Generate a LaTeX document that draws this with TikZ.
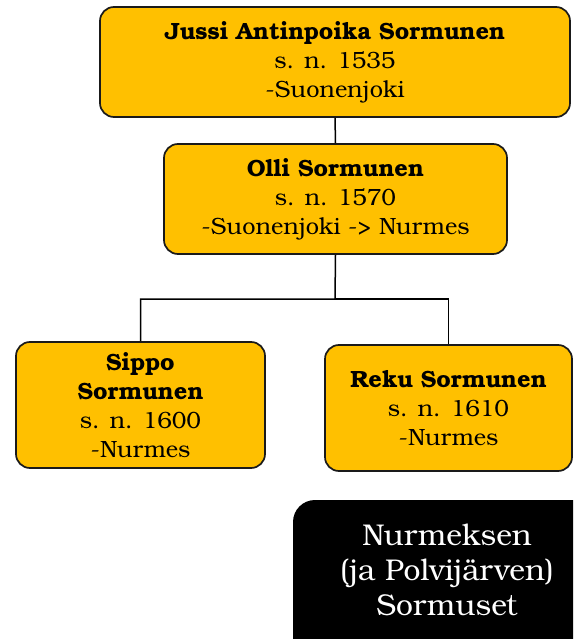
\documentclass[tikz,border=0pt]{standalone}
\usepackage{fontspec}
\setmainfont{TeX Gyre Bonum}
\definecolor{gold}{HTML}{FFC000}
\definecolor{edge}{HTML}{1A1A1A}
\tikzset{
  person/.style={draw=edge, line width=1.7pt, fill=gold, rounded corners=14pt,
    align=center, inner sep=0pt, font=\fontsize{23.5}{29}\selectfont},
  link/.style={draw=black, line width=1.5pt},
  title/.style={fill=black, rounded corners=22pt, text=white, align=center,
    font=\fontsize{30}{35}\selectfont}
}
\begin{document}
\begin{tikzpicture}[x=1pt, y=-1pt]
  \useasboundingbox (0,0) rectangle (573,639);
  \clip (0,0) rectangle (573,639);
  \node[person, minimum width=470pt, minimum height=110pt] (jussi) at (335,62)
    {\textbf{Jussi Antinpoika Sormunen}\\s. n. 1535\\-Suonenjoki};
  \node[person, minimum width=343pt, minimum height=110pt] (olli) at (335.5,199)
    {\textbf{Olli Sormunen}\\s. n. 1570\\-Suonenjoki -> Nurmes};
  \node[person, minimum width=249pt, minimum height=126pt] (sippo) at (140.5,405)
    {\textbf{Sippo}\\\textbf{Sormunen}\\s. n. 1600\\-Nurmes};
  \node[person, minimum width=247pt, minimum height=126pt] (reku) at (448.5,408)
    {\textbf{Reku Sormunen}\\s. n. 1610\\-Nurmes};
  \node[title, minimum width=300pt, minimum height=160pt] (kin) at (443,580) {};
  \node[title, fill=none] (kintext) at (447,570) {Nurmeksen\\(ja Polvijärven)\\Sormuset};
  \coordinate (split) at (335,299);
  \draw[link] (jussi.south) -- (olli.north);
  \draw[link] (olli.south) -- (split) -| (sippo.north);
  \draw[link] (split) -| (reku.north);
\end{tikzpicture}
\end{document}
